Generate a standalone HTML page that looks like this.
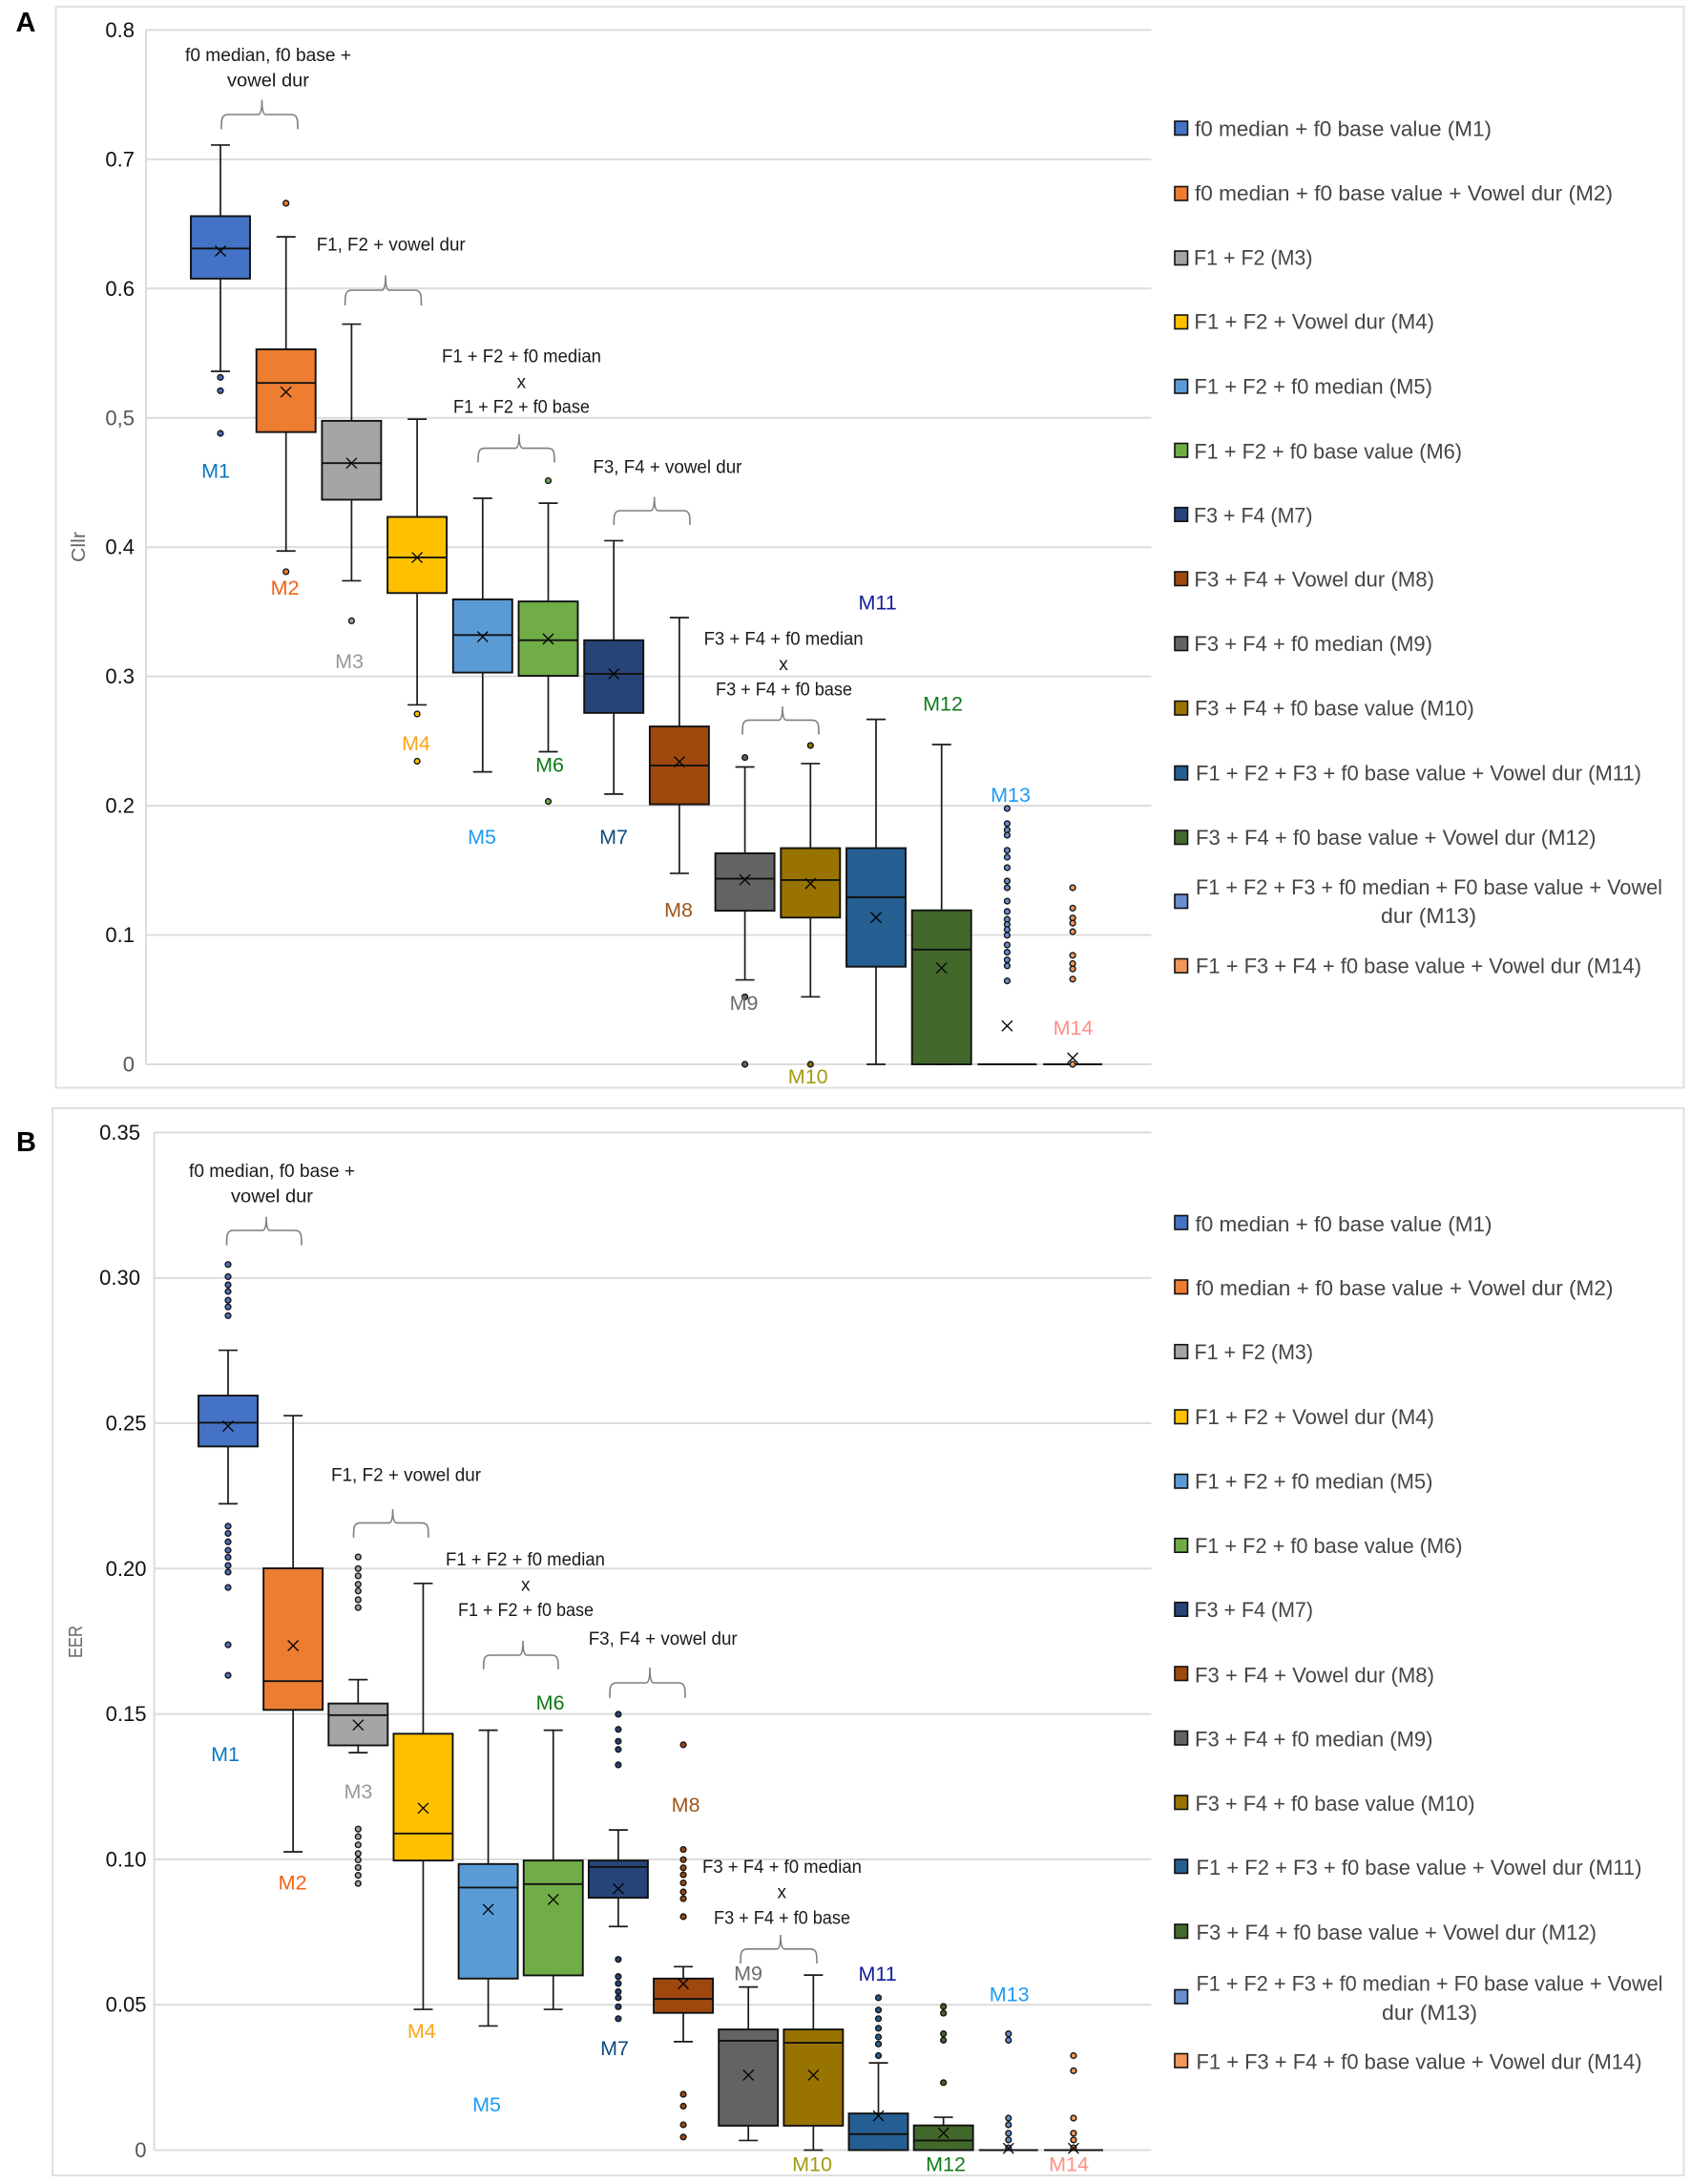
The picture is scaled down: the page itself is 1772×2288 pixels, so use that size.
<!DOCTYPE html>
<html lang="en">
<head>
<meta charset="utf-8">
<title>Cllr and EER box plots by feature combination</title>
<style>
  html, body { margin: 0; padding: 0; background: #fff; }
  svg { display: block; font-family: "Liberation Sans", Arial, sans-serif; }
  .note { font-size: 19px; fill: #1a1a1a; }
  .leg { font-size: 22px; fill: #454545; }
  .mlab { font-size: 21.5px; text-anchor: middle; }
  .swatch { stroke: #111; stroke-width: 1.6; }
  .panel-letter { font-size: 29px; font-weight: bold; fill: #000; }
  .axis-title { font-size: 20px; fill: #666; }
</style>
</head>
<body>
<svg id="figure" width="1772" height="2288" viewBox="0 0 1772 2288" xmlns="http://www.w3.org/2000/svg">
  <rect x="0" y="0" width="1772" height="2288" fill="#fff"/>

  <!-- PANEL A -->
  <g id="panel-a">
    <rect x="58.5" y="7" width="1706" height="1132.5" fill="#fff" stroke="#e0e0e0" stroke-width="2"/>
    <text class="panel-letter" x="16.5" y="33">A</text>
    <text class="axis-title" transform="translate(89,589) rotate(-90)" textLength="32" lengthAdjust="spacingAndGlyphs">Cllr</text>
    <g id="grid-a"></g>
    <g id="marks-a"></g>
    <g id="braces-a"></g>

    <g>
      <text class="note" x="194" y="64" textLength="174" lengthAdjust="spacingAndGlyphs">f0 median, f0 base +</text>
      <text class="note" x="238" y="90.7" textLength="86" lengthAdjust="spacingAndGlyphs">vowel dur</text>
      <text class="note" x="331.7" y="262.5" textLength="156" lengthAdjust="spacingAndGlyphs">F1, F2 + vowel dur</text>
      <text class="note" x="463" y="379.6" textLength="167" lengthAdjust="spacingAndGlyphs">F1 + F2 + f0 median</text>
      <text class="note" x="546.4" y="406.4" text-anchor="middle">x</text>
      <text class="note" x="475" y="432.5" textLength="143" lengthAdjust="spacingAndGlyphs">F1 + F2 + f0 base</text>
      <text class="note" x="621.4" y="495.6" textLength="156" lengthAdjust="spacingAndGlyphs">F3, F4 + vowel dur</text>
      <text class="note" x="737.6" y="675.7" textLength="167" lengthAdjust="spacingAndGlyphs">F3 + F4 + f0 median</text>
      <text class="note" x="821" y="701.8" text-anchor="middle">x</text>
      <text class="note" x="750" y="728.3" textLength="143" lengthAdjust="spacingAndGlyphs">F3 + F4 + f0 base</text>
    </g>

    <g>
      <text class="mlab" x="226" y="500.5" fill="#0b78c0">M1</text>
      <text class="mlab" x="298.6" y="623" fill="#f26014">M2</text>
      <text class="mlab" x="366" y="700" fill="#999999">M3</text>
      <text class="mlab" x="436" y="786" fill="#f9a51a">M4</text>
      <text class="mlab" x="505" y="884" fill="#1e9bf0">M5</text>
      <text class="mlab" x="576" y="808.7" fill="#0d7a14">M6</text>
      <text class="mlab" x="643" y="884" fill="#0f4a82">M7</text>
      <text class="mlab" x="711" y="960.5" fill="#a0561a">M8</text>
      <text class="mlab" x="779.5" y="1058" fill="#6b6b6b">M9</text>
      <text class="mlab" x="846.7" y="1135" fill="#a39a10">M10</text>
      <text class="mlab" x="919.6" y="638.7" fill="#121e9a">M11</text>
      <text class="mlab" x="988" y="744.6" fill="#117a18">M12</text>
      <text class="mlab" x="1059" y="840" fill="#1e9bf5">M13</text>
      <text class="mlab" x="1124.5" y="1084" fill="#ff9088">M14</text>
    </g>

    <g>
      <g><rect class="swatch" x="1231" y="127" width="13.5" height="14.5" fill="#4472c4"/><text class="leg" x="1252" y="142.5" textLength="311" lengthAdjust="spacingAndGlyphs">f0 median + f0 base value (M1)</text></g>
      <g><rect class="swatch" x="1231" y="195.5" width="13.5" height="14.5" fill="#ed7d31"/><text class="leg" x="1252" y="209.8" textLength="438" lengthAdjust="spacingAndGlyphs">f0 median + f0 base value + Vowel dur (M2)</text></g>
      <g><rect class="swatch" x="1231" y="263" width="13.5" height="14.5" fill="#a5a5a5"/><text class="leg" x="1251" y="277.3" textLength="124.5" lengthAdjust="spacingAndGlyphs">F1 + F2 (M3)</text></g>
      <g><rect class="swatch" x="1231" y="330" width="13.5" height="14.5" fill="#ffc000"/><text class="leg" x="1251.4" y="344.6" textLength="251.6" lengthAdjust="spacingAndGlyphs">F1 + F2 + Vowel dur (M4)</text></g>
      <g><rect class="swatch" x="1231" y="397.5" width="13.5" height="14.5" fill="#5b9bd5"/><text class="leg" x="1251.4" y="412.7" textLength="249.6" lengthAdjust="spacingAndGlyphs">F1 + F2 + f0 median (M5)</text></g>
      <g><rect class="swatch" x="1231" y="464.5" width="13.5" height="14.5" fill="#70ad47"/><text class="leg" x="1251.4" y="480.4" textLength="280.6" lengthAdjust="spacingAndGlyphs">F1 + F2 + f0 base value (M6)</text></g>
      <g><rect class="swatch" x="1231" y="531.7" width="13.5" height="14.5" fill="#264478"/><text class="leg" x="1251" y="547.7" textLength="124.5" lengthAdjust="spacingAndGlyphs">F3 + F4 (M7)</text></g>
      <g><rect class="swatch" x="1231" y="599" width="13.5" height="14.5" fill="#9e480e"/><text class="leg" x="1251.4" y="614.7" textLength="251.6" lengthAdjust="spacingAndGlyphs">F3 + F4 + Vowel dur (M8)</text></g>
      <g><rect class="swatch" x="1231" y="667" width="13.5" height="14.5" fill="#636363"/><text class="leg" x="1251.4" y="682" textLength="249.6" lengthAdjust="spacingAndGlyphs">F3 + F4 + f0 median (M9)</text></g>
      <g><rect class="swatch" x="1231" y="734.5" width="13.5" height="14.5" fill="#997300"/><text class="leg" x="1252" y="749.7" textLength="292.8" lengthAdjust="spacingAndGlyphs">F3 + F4 + f0 base value (M10)</text></g>
      <g><rect class="swatch" x="1231" y="802.5" width="13.5" height="14.5" fill="#255e91"/><text class="leg" x="1253" y="817.7" textLength="467" lengthAdjust="spacingAndGlyphs">F1 + F2 + F3 + f0 base value + Vowel dur (M11)</text></g>
      <g><rect class="swatch" x="1231" y="870" width="13.5" height="14.5" fill="#43682b"/><text class="leg" x="1253" y="885" textLength="419.5" lengthAdjust="spacingAndGlyphs">F3 + F4 + f0 base value + Vowel dur (M12)</text></g>
      <g><rect class="swatch" x="1231" y="937" width="13.5" height="14.5" fill="#698ed0"/><text class="leg" x="1253" y="937" textLength="489" lengthAdjust="spacingAndGlyphs">F1 + F2 + F3 + f0 median + F0 base value + Vowel</text><text class="leg" x="1447" y="967" textLength="100" lengthAdjust="spacingAndGlyphs">dur (M13)</text></g>
      <g><rect class="swatch" x="1231" y="1004.5" width="13.5" height="14.5" fill="#f1975a"/><text class="leg" x="1253" y="1019.7" textLength="467" lengthAdjust="spacingAndGlyphs">F1 + F3 + F4 + f0 base value + Vowel dur (M14)</text></g>
    </g>
  </g>

  <!-- PANEL B -->
  <g id="panel-b">
    <rect x="55" y="1161" width="1709.5" height="1118" fill="#fff" stroke="#e0e0e0" stroke-width="2"/>
    <text class="panel-letter" x="17" y="1206">B</text>
    <text class="axis-title" transform="translate(86,1737) rotate(-90)" textLength="34" lengthAdjust="spacingAndGlyphs">EER</text>
    <g id="grid-b"></g>
    <g id="marks-b"></g>
    <g id="braces-b"></g>

    <g>
      <text class="note" x="198" y="1233" textLength="174" lengthAdjust="spacingAndGlyphs">f0 median, f0 base +</text>
      <text class="note" x="242" y="1259.4" textLength="86" lengthAdjust="spacingAndGlyphs">vowel dur</text>
      <text class="note" x="347" y="1551.4" textLength="157" lengthAdjust="spacingAndGlyphs">F1, F2 + vowel dur</text>
      <text class="note" x="467" y="1640" textLength="167" lengthAdjust="spacingAndGlyphs">F1 + F2 + f0 median</text>
      <text class="note" x="550.7" y="1666.7" text-anchor="middle">x</text>
      <text class="note" x="480" y="1693" textLength="142" lengthAdjust="spacingAndGlyphs">F1 + F2 + f0 base</text>
      <text class="note" x="616.7" y="1723" textLength="156" lengthAdjust="spacingAndGlyphs">F3, F4 + vowel dur</text>
      <text class="note" x="736" y="1962" textLength="167" lengthAdjust="spacingAndGlyphs">F3 + F4 + f0 median</text>
      <text class="note" x="819.3" y="1988.6" text-anchor="middle">x</text>
      <text class="note" x="748" y="2015.4" textLength="143" lengthAdjust="spacingAndGlyphs">F3 + F4 + f0 base</text>
    </g>

    <g>
      <text class="mlab" x="236" y="1845" fill="#0b78c0">M1</text>
      <text class="mlab" x="306.6" y="1979.4" fill="#f26014">M2</text>
      <text class="mlab" x="375.4" y="1884" fill="#999999">M3</text>
      <text class="mlab" x="441.8" y="2135" fill="#f9a51a">M4</text>
      <text class="mlab" x="510" y="2212" fill="#1e9bf0">M5</text>
      <text class="mlab" x="576.6" y="1791" fill="#0d7a14">M6</text>
      <text class="mlab" x="644" y="2153" fill="#0f4a82">M7</text>
      <text class="mlab" x="718.6" y="1897.8" fill="#a0561a">M8</text>
      <text class="mlab" x="784" y="2074.6" fill="#6b6b6b">M9</text>
      <text class="mlab" x="851" y="2274.7" fill="#a39a10">M10</text>
      <text class="mlab" x="919.6" y="2075" fill="#121e9a">M11</text>
      <text class="mlab" x="991" y="2274.7" fill="#117a18">M12</text>
      <text class="mlab" x="1057.7" y="2096.7" fill="#1e9bf5">M13</text>
      <text class="mlab" x="1120" y="2274.7" fill="#ff9088">M14</text>
    </g>

    <g>
      <g><rect class="swatch" x="1231" y="1273.5" width="13.5" height="14.5" fill="#4472c4"/><text class="leg" x="1252.5" y="1290" textLength="311" lengthAdjust="spacingAndGlyphs">f0 median + f0 base value (M1)</text></g>
      <g><rect class="swatch" x="1231" y="1341" width="13.5" height="14.5" fill="#ed7d31"/><text class="leg" x="1253" y="1356.8" textLength="437.5" lengthAdjust="spacingAndGlyphs">f0 median + f0 base value + Vowel dur (M2)</text></g>
      <g><rect class="swatch" x="1231" y="1408.7" width="13.5" height="14.5" fill="#a5a5a5"/><text class="leg" x="1251.5" y="1424" textLength="124.5" lengthAdjust="spacingAndGlyphs">F1 + F2 (M3)</text></g>
      <g><rect class="swatch" x="1231" y="1477" width="13.5" height="14.5" fill="#ffc000"/><text class="leg" x="1252" y="1492" textLength="251" lengthAdjust="spacingAndGlyphs">F1 + F2 + Vowel dur (M4)</text></g>
      <g><rect class="swatch" x="1231" y="1544.5" width="13.5" height="14.5" fill="#5b9bd5"/><text class="leg" x="1252" y="1559.5" textLength="249.5" lengthAdjust="spacingAndGlyphs">F1 + F2 + f0 median (M5)</text></g>
      <g><rect class="swatch" x="1231" y="1611.7" width="13.5" height="14.5" fill="#70ad47"/><text class="leg" x="1252" y="1627" textLength="280.5" lengthAdjust="spacingAndGlyphs">F1 + F2 + f0 base value (M6)</text></g>
      <g><rect class="swatch" x="1231" y="1678.7" width="13.5" height="14.5" fill="#264478"/><text class="leg" x="1251.5" y="1694" textLength="124.5" lengthAdjust="spacingAndGlyphs">F3 + F4 (M7)</text></g>
      <g><rect class="swatch" x="1231" y="1746" width="13.5" height="14.5" fill="#9e480e"/><text class="leg" x="1252" y="1762.5" textLength="251" lengthAdjust="spacingAndGlyphs">F3 + F4 + Vowel dur (M8)</text></g>
      <g><rect class="swatch" x="1231" y="1813.5" width="13.5" height="14.5" fill="#636363"/><text class="leg" x="1252" y="1829.5" textLength="249.5" lengthAdjust="spacingAndGlyphs">F3 + F4 + f0 median (M9)</text></g>
      <g><rect class="swatch" x="1231" y="1881" width="13.5" height="14.5" fill="#997300"/><text class="leg" x="1252.5" y="1897" textLength="293" lengthAdjust="spacingAndGlyphs">F3 + F4 + f0 base value (M10)</text></g>
      <g><rect class="swatch" x="1231" y="1948" width="13.5" height="14.5" fill="#255e91"/><text class="leg" x="1253.5" y="1964" textLength="467" lengthAdjust="spacingAndGlyphs">F1 + F2 + F3 + f0 base value + Vowel dur (M11)</text></g>
      <g><rect class="swatch" x="1231" y="2016" width="13.5" height="14.5" fill="#43682b"/><text class="leg" x="1253.5" y="2032" textLength="419.5" lengthAdjust="spacingAndGlyphs">F3 + F4 + f0 base value + Vowel dur (M12)</text></g>
      <g><rect class="swatch" x="1231" y="2084.5" width="13.5" height="14.5" fill="#698ed0"/><text class="leg" x="1253.5" y="2085.5" textLength="489" lengthAdjust="spacingAndGlyphs">F1 + F2 + F3 + f0 median + F0 base value + Vowel</text><text class="leg" x="1448" y="2116" textLength="100" lengthAdjust="spacingAndGlyphs">dur (M13)</text></g>
      <g><rect class="swatch" x="1231" y="2151.5" width="13.5" height="14.5" fill="#f1975a"/><text class="leg" x="1253.5" y="2167.5" textLength="467" lengthAdjust="spacingAndGlyphs">F1 + F3 + F4 + f0 base value + Vowel dur (M14)</text></g>
    </g>
  </g>
</svg>

<script>
// ---------- shared data ----------
const categories = ['M1','M2','M3','M4','M5','M6','M7','M8','M9','M10','M11','M12','M13','M14'];
const boxColors = ['#4472c4','#ed7d31','#a5a5a5','#ffc000','#5b9bd5','#70ad47','#264478','#9e480e','#636363','#997300','#255e91','#43682b','#698ed0','#f1975a'];

// ---------- panel A: Cllr ----------
const cllrTicks = [0, 0.1, 0.2, 0.3, 0.4, 0.5, 0.6, 0.7, 0.8];
const cllrTickLabels = ['0','0.1','0.2','0.3','0.4','0,5','0.6','0.7','0.8'];
const cllrWhiskerHigh = [0.711,0.640,0.5725,0.499,0.4378,0.434,0.405,0.3455,0.230,0.2326,0.2668,0.2473,0,0];
const cllrQ3 = [0.656,0.553,0.4977,0.4234,0.3596,0.358,0.328,0.2613,0.1632,0.1672,0.1672,0.1191,0,0];
const cllrMedian = [0.631,0.527,0.465,0.392,0.332,0.328,0.302,0.2311,0.1436,0.1425,0.1292,0.0887,0,0];
const cllrQ1 = [0.6077,0.489,0.4367,0.3645,0.303,0.3005,0.2718,0.2011,0.1188,0.1135,0.0755,0,0,0];
const cllrWhiskerLow = [0.536,0.397,0.374,0.278,0.2262,0.2418,0.209,0.1477,0.0653,0.0522,0,0,0,0];
const cllrMean = [0.629,0.52,0.465,0.392,0.3307,0.329,0.302,0.234,0.1427,0.1398,0.1135,0.0745,0.0297,0.0049];
const cllrOutliers = [
  [0.5313,0.521,0.488],
  [0.666,0.381],
  [0.343],
  [0.271,0.2344],
  [],
  [0.4514,0.2033],
  [],
  [],
  [0.2373,0.0522,0],
  [0.2466,0],
  [],
  [],
  [0.1979,0.1862,0.1813,0.1772,0.1655,0.1602,0.1521,0.1418,0.1366,0.1262,0.1182,0.1121,0.1082,0.1042,0.0998,0.0923,0.0867,0.0808,0.0762,0.0645],
  [0.1366,0.1208,0.1132,0.1092,0.1026,0.0843,0.0779,0.0738,0.0659,0]
];

// ---------- panel B: EER ----------
const eerTicks = [0, 0.05, 0.10, 0.15, 0.20, 0.25, 0.30, 0.35];
const eerTickLabels = ['0','0.05','0.10','0.15','0.20','0.25','0.30','0.35'];
const eerWhiskerHigh = [0.2751,0.2526,0.1618,0.1949,0.1444,0.1444,0.1101,0.0631,0.0561,0.0602,0.030,0.0113,0,0];
const eerQ3 = [0.2595,0.2001,0.1536,0.1432,0.0984,0.0996,0.0996,0.059,0.0415,0.0415,0.0126,0.0085,0,0];
const eerMedian = [0.2502,0.1613,0.1496,0.1089,0.0903,0.0915,0.0974,0.052,0.0376,0.0369,0.0055,0.0033,0,0];
const eerQ1 = [0.242,0.1514,0.1392,0.0996,0.059,0.0601,0.0868,0.0472,0.0084,0.0084,0,0,0,0];
const eerWhiskerLow = [0.2223,0.1026,0.1367,0.0484,0.0427,0.0484,0.0769,0.0373,0.0033,0,0,0,0,0];
const eerMean = [0.249,0.1735,0.1462,0.1176,0.0828,0.0862,0.0899,0.0572,0.0258,0.0258,0.0118,0.0059,0.0006,0.0006];
const eerOutliers = [
  [0.3046,0.3004,0.2976,0.2953,0.2923,0.29,0.287,0.2146,0.2121,0.2092,0.2063,0.2039,0.2011,0.1988,0.1935,0.1738,0.1633],
  [],
  [0.204,0.2,0.1975,0.1946,0.1923,0.1893,0.1866,0.1104,0.1078,0.105,0.102,0.0998,0.0972,0.0945,0.0917],
  [],
  [],
  [],
  [0.1499,0.1447,0.1406,0.1378,0.1325,0.0656,0.0597,0.0573,0.0545,0.0524,0.0493,0.0452],
  [0.1394,0.1034,0.0999,0.0971,0.0947,0.0919,0.0888,0.0865,0.0803,0.0192,0.0151,0.0087,0.0045],
  [],
  [],
  [0.0524,0.0482,0.0452,0.0419,0.0389,0.0365,0.0325],
  [0.0494,0.0471,0.04,0.0378,0.0232],
  [0.04,0.0378,0.011,0.0087,0.0058,0.0035,0.0008],
  [0.0325,0.0273,0.011,0.0058,0.0035,0.0008]
];

// ---------- axis functions ----------
function yA(v) { return 1115 - 1354.5 * v; }
function xA(i) { return 231 + 68.7 * i; }
function yB(v) { return 2252.5 - 3046 * v; }
function xB(i) { return 239 + 68.15 * i; }

const SVGNS = 'http://www.w3.org/2000/svg';
function make(tag, attrs, parent) {
  const el = document.createElementNS(SVGNS, tag);
  for (const k in attrs) el.setAttribute(k, attrs[k]);
  parent.appendChild(el);
  return el;
}

function drawGrid(group, ticks, labels, yFn, left, right, labelRight, prefix) {
  ticks.forEach(function (t, i) {
    const line = make('line', { x1: left, x2: right, y1: yFn(t), y2: yFn(t), stroke: '#dcdcdc', 'stroke-width': 2 }, group);
    
    
    const gray = labels[i] === '0,5' || labels[i] === '0';
    const lab = make('text', { x: labelRight(t), y: yFn(t) + 7.5, 'text-anchor': 'end', 'font-size': 22, fill: gray ? '#555' : '#111' }, group);
    
    
    lab.textContent = labels[i];
  });
  const top = yFn(ticks[ticks.length - 1]);
  const bottom = yFn(ticks[0]);
  const axis = make('line', { x1: left, x2: left, y1: top, y2: bottom, stroke: '#dcdcdc', 'stroke-width': 2 }, group);
  
  
}

function drawBoxes(group, xFn, yFn, hi, q3, med, q1, lo, mean, outliers, prefix) {
  const halfBox = 31;
  const halfCap = 10;
  const ink = '#1a1a1a';
  categories.forEach(function (cat, i) {
    const cx = xFn(i);
    const g = make('g', {}, group);
    
    

    const stem = make('line', { x1: cx, x2: cx, y1: yFn(hi[i]), y2: yFn(lo[i]), stroke: ink, 'stroke-width': 1.7 }, g);
    
    

    const capHi = make('line', { x1: cx - halfCap, x2: cx + halfCap, y1: yFn(hi[i]), y2: yFn(hi[i]), stroke: ink, 'stroke-width': 1.7 }, g);
    
    

    const capLo = make('line', { x1: cx - halfCap, x2: cx + halfCap, y1: yFn(lo[i]), y2: yFn(lo[i]), stroke: ink, 'stroke-width': 1.7 }, g);
    
    

    const body = make('rect', { x: cx - halfBox, width: halfBox * 2, y: yFn(q3[i]), height: Math.max(0, yFn(q1[i]) - yFn(q3[i])), fill: boxColors[i], stroke: '#111', 'stroke-width': 1.9 }, g);
    
    

    const medLine = make('line', { x1: cx - halfBox, x2: cx + halfBox, y1: yFn(med[i]), y2: yFn(med[i]), stroke: '#111', 'stroke-width': 1.9 }, g);
    
    

    outliers[i].forEach(function (v, k) {
      const dot = make('circle', { cx: cx, cy: yFn(v), r: 2.9, fill: boxColors[i], stroke: '#151515', 'stroke-width': 1.4 }, g);
      
      
    });

    const my = yFn(mean[i]);
    const s = 5.5;
    const mark = make('path', { d: 'M' + (cx - s) + ' ' + (my - s) + 'L' + (cx + s) + ' ' + (my + s) + 'M' + (cx + s) + ' ' + (my - s) + 'L' + (cx - s) + ' ' + (my + s), fill: 'none', stroke: '#000', 'stroke-width': 1.3 }, g);
    
    
  });
}

function drawBrace(group, x0, x1, tipX, bottom, line, tip, name) {
  const d = 'M' + x0 + ' ' + bottom +
    'C' + x0 + ' ' + (line + 5) + ' ' + x0 + ' ' + line + ' ' + (x0 + 7) + ' ' + line +
    'L' + (tipX - 4) + ' ' + line +
    'Q' + tipX + ' ' + line + ' ' + tipX + ' ' + tip +
    'Q' + tipX + ' ' + line + ' ' + (tipX + 4) + ' ' + line +
    'L' + (x1 - 7) + ' ' + line +
    'C' + x1 + ' ' + line + ' ' + x1 + ' ' + (line + 5) + ' ' + x1 + ' ' + bottom;
  const p = make('path', { d: d, fill: 'none', stroke: '#7f7f7f', 'stroke-width': 1.6 }, group);
  
  
}

// ---------- render panel A ----------
drawGrid(document.getElementById('grid-a'), cllrTicks, cllrTickLabels, yA, 153, 1206.5, function () { return 141; }, 'cllr');
drawBoxes(document.getElementById('marks-a'), xA, yA, cllrWhiskerHigh, cllrQ3, cllrMedian, cllrQ1, cllrWhiskerLow, cllrMean, cllrOutliers, 'cllr');
const bracesA = document.getElementById('braces-a');
drawBrace(bracesA, 232, 312, 274.5, 135.5, 120, 104.5, 'brace-m1-m2');
drawBrace(bracesA, 361.6, 441.5, 404, 320, 304, 288.6, 'brace-m3-m4');
drawBrace(bracesA, 501, 581, 544, 484.5, 469.6, 455, 'brace-m5-m6');
drawBrace(bracesA, 643.3, 723, 685.7, 550, 535, 520.5, 'brace-m7-m8');
drawBrace(bracesA, 778, 858, 820, 769.5, 754.4, 740, 'brace-m9-m10');

// ---------- render panel B ----------
drawGrid(document.getElementById('grid-b'), eerTicks, eerTickLabels, yB, 161.6, 1206.5, function (t) { return t >= 0.3 ? 147 : 153.5; }, 'eer');
drawBoxes(document.getElementById('marks-b'), xB, yB, eerWhiskerHigh, eerQ3, eerMedian, eerQ1, eerWhiskerLow, eerMean, eerOutliers, 'eer');
const bracesB = document.getElementById('braces-b');
drawBrace(bracesB, 237.5, 316, 279, 1304.6, 1289, 1274.7, 'brace-b-m1-m2');
drawBrace(bracesB, 370.5, 449, 411.6, 1610.7, 1595.4, 1581, 'brace-b-m3-m4');
drawBrace(bracesB, 506.7, 585, 548, 1748.7, 1734, 1719, 'brace-b-m5-m6');
drawBrace(bracesB, 639, 718, 681, 1778.7, 1763, 1747, 'brace-b-m7-m8');
drawBrace(bracesB, 776, 856, 818, 2057, 2041.8, 2027, 'brace-b-m9-m10');
</script>
</body>
</html>
